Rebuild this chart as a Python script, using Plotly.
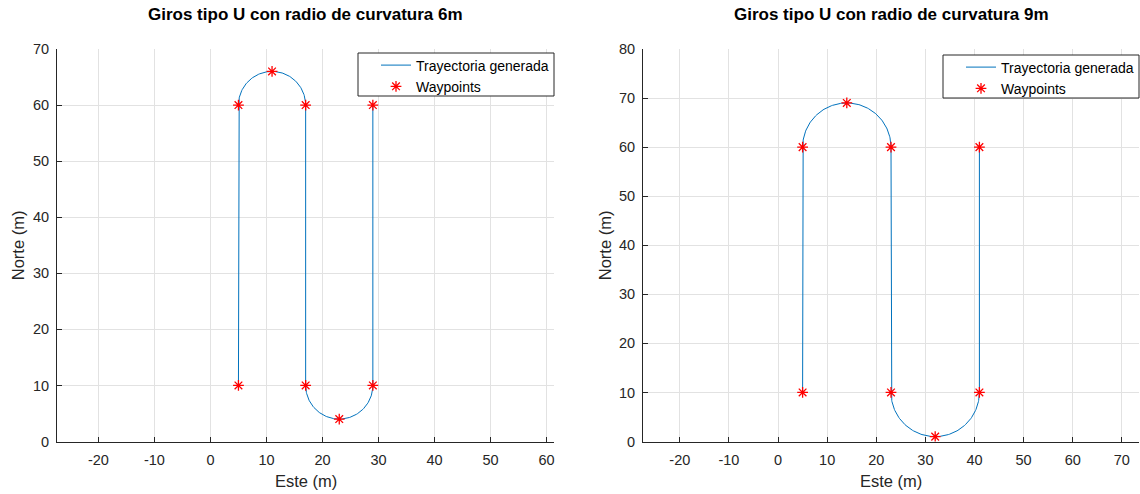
import numpy as np
import plotly.graph_objects as go

# ---- data ----
wp6_x = [5, 5, 11, 17, 17, 23, 29, 29]
wp6_y = [10, 60, 66, 60, 10, 4, 10, 60]
radius6 = 6

wp9_x = [5, 5, 14, 23, 23, 32, 41, 41]
wp9_y = [10, 60, 69, 60, 10, 1, 10, 60]
radius9 = 9

titles = ["Giros tipo U con radio de curvatura 6m", "Giros tipo U con radio de curvatura 9m"]
xticks6 = [-20, -10, 0, 10, 20, 30, 40, 50, 60]
xticks9 = [-20, -10, 0, 10, 20, 30, 40, 50, 60, 70]
yticks6 = [0, 10, 20, 30, 40, 50, 60, 70]
yticks9 = [0, 10, 20, 30, 40, 50, 60, 70, 80]


def build_path(wx, wy, r):
    """Straight legs between turns, semicircular turns through the apex waypoint."""
    px, py = [wx[0]], [wy[0]]
    i = 1
    while i < len(wx):
        px.append(wx[i]); py.append(wy[i])
        if i + 2 < len(wx):
            sx, sy = wx[i], wy[i]
            mx, my = wx[i + 1], wy[i + 1]
            ex, ey = wx[i + 2], wy[i + 2]
            cx, cy = (sx + ex) / 2, (sy + ey) / 2
            a0 = np.arctan2(sy - cy, sx - cx)
            am = np.arctan2(my - cy, mx - cx)
            d = (am - a0 + np.pi) % (2 * np.pi) - np.pi
            th = np.linspace(a0, a0 + 2 * d, 120)
            px.extend(list(cx + r * np.cos(th)))
            py.extend(list(cy + r * np.sin(th)))
            i += 3
        else:
            i += 1
    return px, py


p6x, p6y = build_path(wp6_x, wp6_y, radius6)
p9x, p9y = build_path(wp9_x, wp9_y, radius9)

FONT = "Liberation Sans, Arial, Helvetica, sans-serif"
AX = "#262626"
GRID = "#e2e2e2"
BLUE = "#0072BD"

W, H = 1140, 494
left_dom = [57 / W, 554.3 / W]
right_dom = [643 / W, 1139 / W]
ydom = [1 - 441.5 / H, 1 - 49 / H]

fig = go.Figure()
mk = dict(symbol="asterisk-open", size=9, color="red", line=dict(color="red", width=1.3))
fig.add_trace(go.Scatter(x=p6x, y=p6y, mode="lines", line=dict(color=BLUE, width=1),
                         name="Trayectoria generada", xaxis="x", yaxis="y", legend="legend"))
fig.add_trace(go.Scatter(x=wp6_x, y=wp6_y, mode="markers", marker=mk,
                         name="Waypoints", xaxis="x", yaxis="y", legend="legend"))
fig.add_trace(go.Scatter(x=p9x, y=p9y, mode="lines", line=dict(color=BLUE, width=1),
                         name="Trayectoria generada", xaxis="x2", yaxis="y2", legend="legend2"))
fig.add_trace(go.Scatter(x=wp9_x, y=wp9_y, mode="markers", marker=mk,
                         name="Waypoints", xaxis="x2", yaxis="y2", legend="legend2"))

axcommon = dict(showgrid=True, gridcolor=GRID, gridwidth=1, showline=True, linecolor=AX,
                linewidth=1, ticks="inside", ticklen=5, tickcolor=AX, zeroline=False,
                mirror=False, tickfont=dict(family=FONT, size=14.5, color=AX), automargin=False)


def lab(v):
    return [("-" + str(-t)) if t < 0 else str(t) for t in v]


fig.update_layout(
    width=W, height=H, margin=dict(l=0, r=0, t=0, b=0),
    paper_bgcolor="white", plot_bgcolor="white",
    font=dict(family=FONT, color=AX),
    xaxis=dict(domain=left_dom, range=[-27.4, 61.4], tickvals=xticks6, ticktext=lab(xticks6),
               anchor="y", ticklabelstandoff=5, **axcommon),
    yaxis=dict(domain=ydom, range=[0, 70], tickvals=yticks6, ticktext=lab(yticks6),
               anchor="x", ticklabelstandoff=4, **axcommon),
    xaxis2=dict(domain=right_dom, range=[-27.5, 73.5], tickvals=xticks9, ticktext=lab(xticks9),
                anchor="y2", ticklabelstandoff=5, **axcommon),
    yaxis2=dict(domain=ydom, range=[0, 80], tickvals=yticks9, ticktext=lab(yticks9),
                anchor="x2", ticklabelstandoff=4, **axcommon),
    showlegend=True,
    legend=dict(x=554 / W, xanchor="right", y=1 - 49.5 / H, yanchor="top",
                bgcolor="rgba(0,0,0,0)", borderwidth=0,
                font=dict(family=FONT, size=14, color="black"), tracegroupgap=0),
    legend2=dict(x=1139 / W, xanchor="right", y=1 - 51.5 / H, yanchor="top",
                 bgcolor="rgba(0,0,0,0)", borderwidth=0,
                 font=dict(family=FONT, size=14, color="black"), tracegroupgap=0),
    shapes=[
        dict(type="rect", xref="paper", yref="paper", x0=358 / W, x1=554 / W,
             y0=1 - 96 / H, y1=1 - 53 / H, line=dict(color=AX, width=1),
             fillcolor="white", layer="above"),
        dict(type="rect", xref="paper", yref="paper", x0=943 / W, x1=1139 / W,
             y0=1 - 98 / H, y1=1 - 55 / H, line=dict(color=AX, width=1),
             fillcolor="white", layer="above"),
    ],
)

annots = [
    dict(text="<b>" + titles[0] + "</b>", x=(left_dom[0] + left_dom[1]) / 2, y=1 - 14 / H,
         font=dict(size=17, color="black")),
    dict(text="<b>" + titles[1] + "</b>", x=(right_dom[0] + right_dom[1]) / 2, y=1 - 14 / H,
         font=dict(size=17, color="black")),
    dict(text="Este (m)", x=(left_dom[0] + left_dom[1]) / 2, y=1 - 481 / H,
         font=dict(size=16.5, color=AX)),
    dict(text="Este (m)", x=(right_dom[0] + right_dom[1]) / 2, y=1 - 481 / H,
         font=dict(size=16.5, color=AX)),
    dict(text="Norte (m)", x=18 / W, y=(ydom[0] + ydom[1]) / 2, textangle=-90,
         font=dict(size=16.5, color=AX)),
    dict(text="Norte (m)", x=605 / W, y=(ydom[0] + ydom[1]) / 2, textangle=-90,
         font=dict(size=16.5, color=AX)),
]
for a in annots:
    a.update(xref="paper", yref="paper", showarrow=False, xanchor="center", yanchor="middle")
    a["font"]["family"] = FONT
fig.update_layout(annotations=annots)

fig.write_html("out.html")
